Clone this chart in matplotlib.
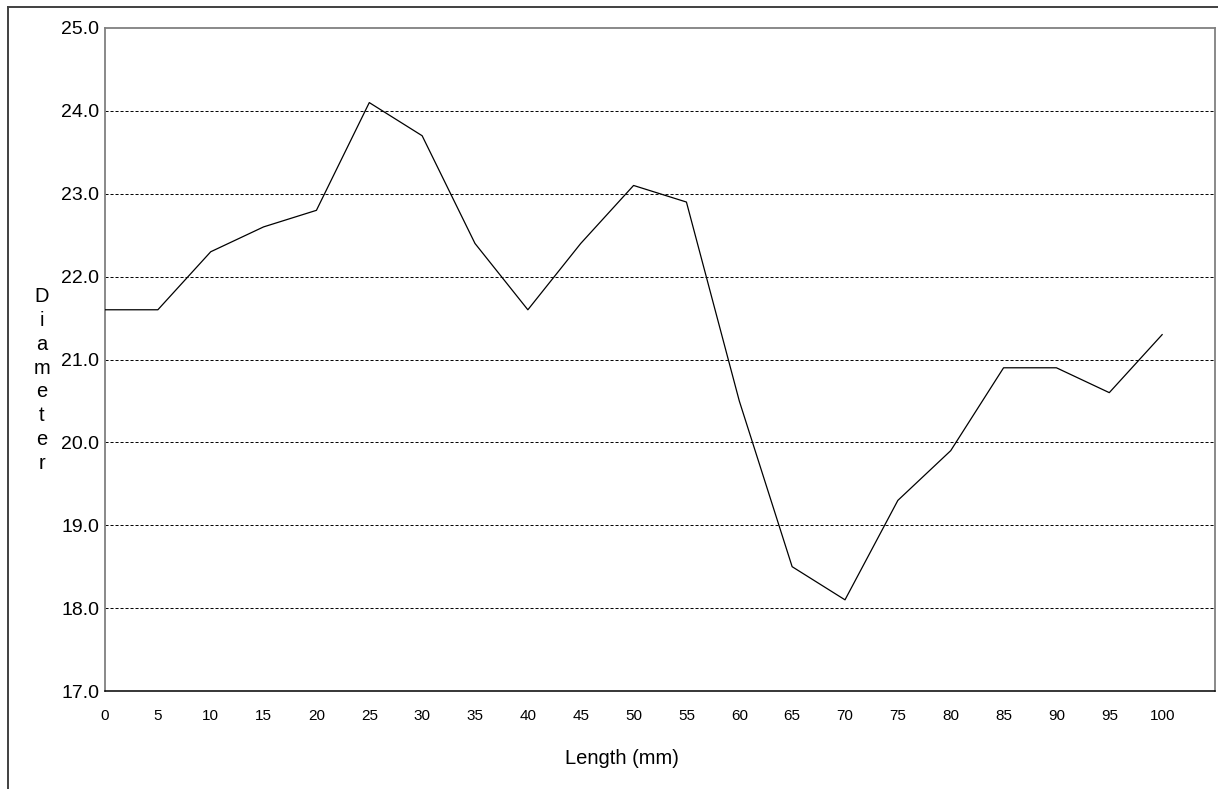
import matplotlib
matplotlib.use("Agg")
import matplotlib.pyplot as plt
from matplotlib.lines import Line2D

plt.rcParams['font.family'] = ['Liberation Sans', 'DejaVu Sans']
plt.rcParams['lines.scale_dashes'] = False

length_mm = [0, 5, 10, 15, 20, 25, 30, 35, 40, 45, 50, 55, 60, 65, 70, 75, 80, 85, 90, 95, 100]
diameter = [21.6, 21.6, 22.3, 22.6, 22.8, 24.1, 23.7, 22.4, 21.6, 22.4, 23.1, 22.9,
            20.5, 18.5, 18.1, 19.3, 19.9, 20.9, 20.9, 20.6, 21.3]
y_ticks = [17.0, 18.0, 19.0, 20.0, 21.0, 22.0, 23.0, 24.0, 25.0]
grid_levels = [18.0, 19.0, 20.0, 21.0, 22.0, 23.0, 24.0]

W, H = 1218, 789
fig = plt.figure(figsize=(W / 100, H / 100), dpi=100)
ax = fig.add_axes([105 / W, (H - 691) / H, (1215 - 105) / W, (691 - 28) / H])

for g in grid_levels:
    ax.axhline(g, color='black', linewidth=0.7, dashes=(2.2, 1.4), zorder=1)

ax.plot(length_mm, diameter, color='black', linewidth=0.9, zorder=3)

ax.set_xlim(0, 105)
ax.set_ylim(17, 25)
ax.set_xticks(length_mm)
ax.set_xticklabels([str(v) for v in length_mm], fontsize=11)
ax.set_yticks(y_ticks)
ax.set_yticklabels([f"{v:.1f}" for v in y_ticks], fontsize=14)
ax.tick_params(axis='x', length=0, pad=13)
ax.tick_params(axis='y', length=0, pad=4)

for side in ['left', 'top', 'right']:
    ax.spines[side].set_color('#808080')
    ax.spines[side].set_linewidth(1.3)
ax.spines['bottom'].set_color('black')
ax.spines['bottom'].set_linewidth(1.1)

fig.text(622 / W, 1 - 758 / H, "Length (mm)", fontsize=14.5, ha='center', va='center')
fig.text(42 / W, 1 - 380 / H, "\n".join("Diameter"), fontsize=14.5, ha='center', va='center',
         linespacing=1.33)

# outer frame
fig.add_artist(Line2D([7.5 / W, 7.5 / W], [0, 1 - 6.5 / H], color='#404040', linewidth=1.4,
                      transform=fig.transFigure))
fig.add_artist(Line2D([7.5 / W, 1], [1 - 6.5 / H, 1 - 6.5 / H], color='#404040', linewidth=1.4,
                      transform=fig.transFigure))

fig.savefig("out.png", dpi=100)
